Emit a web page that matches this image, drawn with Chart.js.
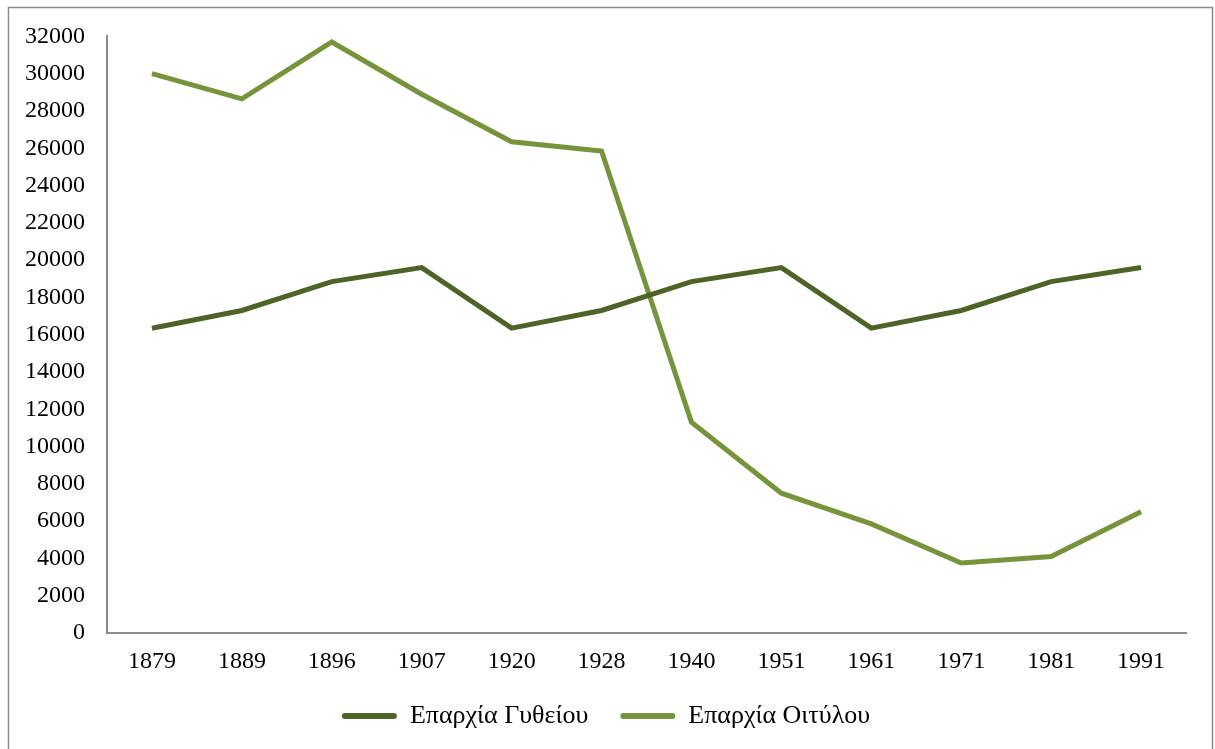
<!DOCTYPE html>
<html>
<head>
<meta charset="utf-8">
<script src="https://cdn.jsdelivr.net/npm/chart.js@4/dist/chart.umd.min.js"></script>
<style>
  html, body { margin: 0; padding: 0; background: #fff; }
  #wrap { width: 1215px; height: 749px; position: relative; }
</style>
</head>
<body>
<div id="wrap"><canvas id="myChart" width="1215" height="749"></canvas></div>
<script>
var years = ['1879', '1889', '1896', '1907', '1920', '1928', '1940', '1951', '1961', '1971', '1981', '1991'];
var gytheio = [16350, 17300, 18850, 19600, 16350, 17300, 18850, 19600, 16350, 17300, 18850, 19600];
var oitylo = [30000, 28650, 31700, 28900, 26350, 25850, 11300, 7500, 5850, 3750, 4100, 6500];
var yTicks = [0, 2000, 4000, 6000, 8000, 10000, 12000, 14000, 16000, 18000, 20000, 22000, 24000, 26000, 28000, 30000, 32000];

var serif = '"Liberation Serif", "Times New Roman", serif';

// outer frame like the office chart box
var framePlugin = {
    id: 'frame',
    beforeDraw: function(chart) {
        var c = chart.ctx;
        c.save();
        c.fillStyle = '#fff';
        c.fillRect(0, 0, chart.width, chart.height);
        c.strokeStyle = '#8c8c8c';
        c.lineWidth = 1.5;
        c.strokeRect(8.5, 7.5, 1204, 800);
        c.restore();
    }
};

var ctx = document.getElementById('myChart').getContext('2d');
var chart = new Chart(ctx, {
    type: 'line',
    data: {
        labels: years,
        datasets: [
            {
                label: 'Επαρχία Γυθείου',
                data: gytheio,
                borderColor: '#4f6228',
                backgroundColor: '#4f6228',
                borderWidth: 5,
                pointRadius: 0,
                tension: 0
            },
            {
                label: 'Επαρχία Οιτύλου',
                data: oitylo,
                borderColor: '#77933c',
                backgroundColor: '#77933c',
                borderWidth: 5,
                pointRadius: 0,
                tension: 0
            }
        ]
    },
    options: {
        responsive: false,
        animation: false,
        layout: { padding: { left: 26, right: 29, top: 36, bottom: 10 } },
        plugins: {
            tooltip: { enabled: false },
            legend: {
                position: 'bottom',
                labels: {
                    color: '#000',
                    font: { family: serif, size: 26, lineHeight: 1 },
                    boxWidth: 55,
                    boxHeight: 6,
                    useBorderRadius: true,
                    borderRadius: 3,
                    padding: 32,
                    generateLabels: function(chart) {
                        var items = Chart.defaults.plugins.legend.labels.generateLabels(chart);
                        items.forEach(function(it) { it.lineWidth = 0; });
                        return items;
                    }
                }
            }
        },
        scales: {
            x: {
                offset: true,
                grid: { display: false, drawTicks: false },
                border: { display: true, color: '#8c8c8c', width: 2 },
                afterFit: function(axis) { axis.height = 38; },
                ticks: {
                    color: '#000',
                    padding: 14,
                    font: { family: serif, size: 24 }
                }
            },
            y: {
                min: 0,
                max: 32000,
                grid: { display: false, drawTicks: false },
                border: { display: true, color: '#8c8c8c', width: 2 },
                afterFit: function(axis) { axis.width = 81; },
                afterBuildTicks: function(axis) {
                    axis.ticks = yTicks.map(function(v) { return { value: v }; });
                },
                ticks: {
                    color: '#000',
                    padding: 22,
                    font: { family: serif, size: 24 },
                    callback: function(v) { return String(v); }
                }
            }
        }
    },
    plugins: [framePlugin]
});
</script>
</body>
</html>
